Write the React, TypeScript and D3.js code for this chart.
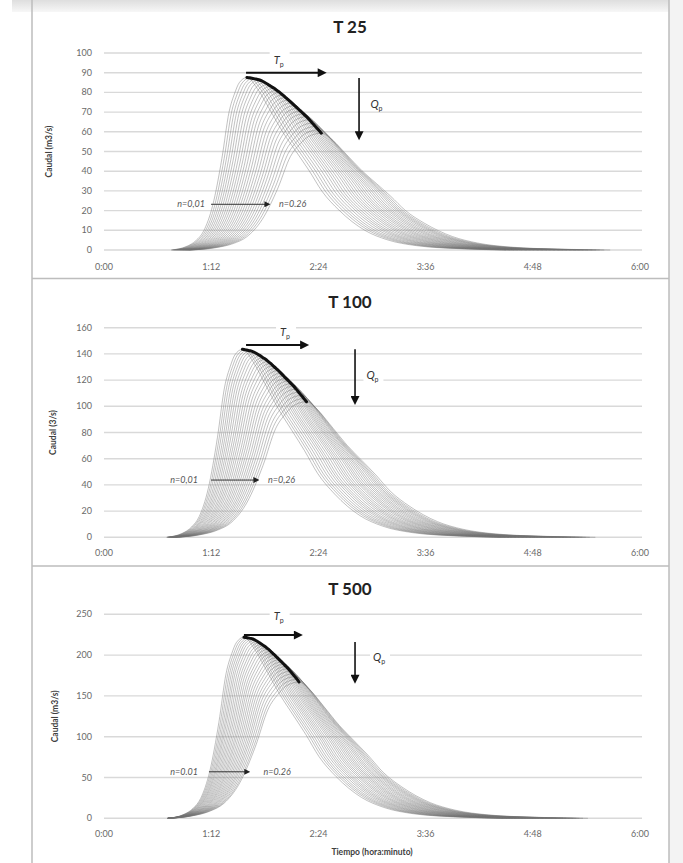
import React from "react";
import * as d3 from "d3";

// Manning n of each simulated hydrograph
const N_VALUES = [0.01, 0.02, 0.03, 0.04, 0.05, 0.06, 0.07, 0.08, 0.09, 0.1, 0.11, 0.12, 0.13,
  0.14, 0.15, 0.16, 0.17, 0.18, 0.19, 0.2, 0.21, 0.22, 0.23, 0.24, 0.25, 0.26];

// duration (min) of the rising limb and of the recession of each hydrograph
const RISE_MIN = [51, 52.5, 54, 55.5, 57, 58.5, 60, 61.5, 63, 64.5, 66, 67.5, 69, 70.5, 72, 73.5,
  75, 76.5, 78, 79.5, 81, 82.5, 84, 85.5, 87, 88.5];
const FALL_MIN = [174, 175, 175.5, 176, 177, 178, 178.5, 179, 180, 181, 181.5, 182, 183, 184,
  184.5, 185, 186, 187, 187.5, 188, 189, 190, 190.5, 191, 192, 194];

// dimensionless hydrograph (fraction of duration, fraction of peak)
const RISE_FRAC = [0, 0.2, 0.33, 0.43, 0.55, 0.67, 0.765, 0.84, 0.9, 1];
const RISE_Q = [0, 0.02, 0.055, 0.11, 0.26, 0.53, 0.8, 0.91, 0.97, 1];
const FALL_FRAC = [0, 0.04, 0.086, 0.14, 0.19, 0.24, 0.29, 0.356, 0.454, 0.54, 0.655, 0.83, 1];
const FALL_Q = [1, 0.936, 0.82, 0.68, 0.57, 0.46, 0.34, 0.23, 0.115, 0.06, 0.025, 0.007, 0];

// peaks (thick line) per return period: time in minutes, flow
const T25_PEAK_TIME = [96, 98, 100, 102, 104, 106, 108, 110, 112, 114, 116, 118, 120, 122, 124,
  126, 128, 130, 132, 134, 136, 138, 140, 142, 144, 146];
const T25_PEAK_FLOW = [87.6, 87.4, 87.1, 86.8, 86.4, 85.8, 85.0, 84.1, 83.1, 82.2, 81.1, 80.0,
  78.7, 77.4, 76.1, 74.7, 73.3, 71.9, 70.5, 69.1, 67.7, 66.1, 64.4, 62.7, 61.0, 59.3];
const T100_PEAK_TIME = [93, 94.7, 96.4, 98.2, 99.9, 101.6, 103.3, 105, 106.8, 108.5, 110.2, 111.9,
  113.6, 115.4, 117.1, 118.8, 120.5, 122.2, 124, 125.7, 127.4, 129.1, 130.8, 132.6, 134.3, 136];
const T100_PEAK_FLOW = [143.5, 143.2, 142.8, 142.4, 141.8, 140.9, 139.8, 138.5, 137.1, 135.9,
  134.3, 132.7, 130.9, 129.1, 127.3, 125.3, 123.3, 121.3, 119.3, 117.3, 115.4, 113.1, 110.7,
  108.3, 105.9, 103.5];
const T500_PEAK_TIME = [94, 95.5, 97, 98.5, 100, 101.4, 102.9, 104.4, 105.9, 107.4, 108.9, 110.4,
  111.9, 113.3, 114.8, 116.3, 117.8, 119.3, 120.8, 122.3, 123.8, 125.2, 126.7, 128.2, 129.7, 131];
const T500_PEAK_FLOW = [222, 221.6, 221, 220.5, 219.7, 218.5, 216.9, 215.2, 213.2, 211.5, 209.4,
  207.2, 204.7, 202.2, 199.7, 196.9, 194.2, 191.5, 188.8, 186, 183.3, 180.2, 176.9, 173.6, 170.3, 167];

const X_TICKS = [0, 72, 144, 216, 288, 360];
const T25_Y_TICKS = [0, 10, 20, 30, 40, 50, 60, 70, 80, 90, 100];
const T100_Y_TICKS = [0, 20, 40, 60, 80, 100, 120, 140, 160];
const T500_Y_TICKS = [0, 50, 100, 150, 200, 250];

// annotation anchors in data units [time, flow]
const T25_NOTES = { tp: [95.4, 149.5, 90], tpLabel: [117.3, 96], qp: [171.3, 87.3, 55.8], qpLabel: [183, 73.6], n: [67.8, 71.9, 111.5, 117.5, 23.2] };
const T100_NOTES = { tp: [95.4, 137.7, 146.8], tpLabel: [121.6, 155.7], qp: [168.6, 143.5, 101], qpLabel: [180.3, 123], n: [63.1, 71.9, 104.1, 110.1, 43.7] };
const T500_NOTES = { tp: [94, 133.5, 224.6], tpLabel: [117.3, 247], qp: [168.6, 216, 165], qpLabel: [184.7, 197], n: [63.1, 70.5, 98, 107.1, 57] };

const FONT = "Lato, 'Open Sans', sans-serif";

const PANELS = [
  { title: "T 25", yTitle: "Caudal (m3/s)", yMax: 100, yTicks: T25_Y_TICKS, peakTime: T25_PEAK_TIME, peakFlow: T25_PEAK_FLOW, notes: T25_NOTES,
    nLeft: "n=0,01", nRight: "n=0.26", titleY: 33, yTop: 53, yZero: 250, xLabelY: 270, yTitleX: 52 },
  { title: "T 100", yTitle: "Caudal (3/s)", yMax: 160, yTicks: T100_Y_TICKS, peakTime: T100_PEAK_TIME, peakFlow: T100_PEAK_FLOW, notes: T100_NOTES,
    nLeft: "n=0,01", nRight: "n=0,26", titleY: 308, yTop: 327.7, yZero: 537.3, xLabelY: 555.5, yTitleX: 56 },
  { title: "T 500", yTitle: "Caudal (m3/s)", yMax: 250, yTicks: T500_Y_TICKS, peakTime: T500_PEAK_TIME, peakFlow: T500_PEAK_FLOW, notes: T500_NOTES,
    nLeft: "n=0.01", nRight: "n=0.26", titleY: 595, yTop: 614.3, yZero: 818.3, xLabelY: 837, yTitleX: 58 },
];

const fmtTime = (m: number) => `${Math.floor(m / 60)}:${String(m % 60).padStart(2, "0")}`;

function hydrograph(tp: number, qp: number, rise: number, fall: number) {
  const pts: [number, number][] = [];
  RISE_FRAC.forEach((f, j) => pts.push([tp - rise * (1 - f), qp * RISE_Q[j]]));
  FALL_FRAC.forEach((f, j) => { if (j > 0) pts.push([tp + fall * f, qp * FALL_Q[j]]); });
  return pts;
}

function Panel({ p }: { p: any }) {
  const x = d3.scaleLinear().domain([0, 360]).range([104, 640]);
  const y = d3.scaleLinear().domain([0, p.yMax]).range([p.yZero, p.yTop]);
  const line = d3.line<[number, number]>().x(d => x(d[0])).y(d => y(d[1])).curve(d3.curveMonotoneX);
  const peaks: [number, number][] = p.peakTime.map((t: number, i: number) => [t, p.peakFlow[i]]);
  const nt = p.notes;
  const midY = (p.yTop + p.yZero) / 2;

  return (
    <g>
      <text x={350} y={p.titleY} textAnchor="middle" fontFamily={FONT} fontWeight="bold" fontSize={17} fill="#222">{p.title}</text>
      {p.yTicks.map((v: number) => (
        <g key={v}>
          <line x1={104} x2={642} y1={y(v)} y2={y(v)} stroke="#d9d9d9" strokeWidth={1.4} />
          <text x={92} y={y(v) + 3} textAnchor="end" fontFamily={FONT} fontSize={9} fill="#6a6a6a">{v}</text>
        </g>
      ))}
      {X_TICKS.map(t => (
        <text key={t} x={x(t)} y={p.xLabelY} textAnchor="middle" fontFamily={FONT} fontSize={9} fill="#6a6a6a">{fmtTime(t)}</text>
      ))}
      <text transform={`translate(${p.yTitleX},${midY}) rotate(-90)`} textAnchor="middle" fontFamily={FONT} fontWeight="bold" fontSize={8.5} fill="#404040">{p.yTitle}</text>

      <g filter="url(#soft)">
        {N_VALUES.map((n, i) => (
          <path key={n} d={line(hydrograph(p.peakTime[i], p.peakFlow[i], RISE_MIN[i], FALL_MIN[i])) || ""}
            fill="none" stroke="#707070" strokeWidth={0.8} strokeOpacity={0.55} />
        ))}
      </g>
      <path d={line(peaks) || ""} fill="none" stroke="#111" strokeWidth={3} strokeLinecap="round" />

      {/* Tp arrow */}
      <line x1={x(nt.tp[0])} x2={x(nt.tp[1]) - 8} y1={y(nt.tp[2])} y2={y(nt.tp[2])} stroke="#111" strokeWidth={2} markerEnd="url(#bigHead)" />
      <rect x={x(nt.tpLabel[0]) - 9} y={y(nt.tpLabel[1]) - 9} width={20} height={15} fill="#fff" />
      <text x={x(nt.tpLabel[0])} y={y(nt.tpLabel[1]) + 3} textAnchor="middle" fontFamily={FONT} fontSize={11} fill="#333">
        <tspan fontStyle="italic">T</tspan><tspan fontSize={7} dy={3}>p</tspan>
      </text>
      {/* Qp arrow */}
      <line x1={x(nt.qp[0])} x2={x(nt.qp[0])} y1={y(nt.qp[1])} y2={y(nt.qp[2]) - 8} stroke="#111" strokeWidth={1.6} markerEnd="url(#bigHead)" />
      <rect x={x(nt.qpLabel[0]) - 9} y={y(nt.qpLabel[1]) - 9} width={20} height={15} fill="#fff" />
      <text x={x(nt.qpLabel[0])} y={y(nt.qpLabel[1]) + 3} textAnchor="middle" fontFamily={FONT} fontSize={11} fill="#333">
        <tspan fontStyle="italic">Q</tspan><tspan fontSize={7} dy={3}>p</tspan>
      </text>
      {/* n range arrow */}
      <text x={x(nt.n[0])} y={y(nt.n[4]) + 3} textAnchor="end" fontFamily={FONT} fontStyle="italic" fontSize={9} fill="#555">{p.nLeft}</text>
      <line x1={x(nt.n[1])} x2={x(nt.n[2]) - 5} y1={y(nt.n[4])} y2={y(nt.n[4])} stroke="#333" strokeWidth={1} markerEnd="url(#smallHead)" />
      <text x={x(nt.n[3])} y={y(nt.n[4]) + 3} textAnchor="start" fontFamily={FONT} fontStyle="italic" fontSize={9} fill="#555">{p.nRight}</text>
    </g>
  );
}

export default function App() {
  return (
    <svg width={683} height={863} style={{ position: "absolute", left: 0, top: 0, background: "#fff" }}>
      <defs>
        <linearGradient id="topBand" x1="0" x2="0" y1="0" y2="1">
          <stop offset="0" stopColor="#dedede" />
          <stop offset="1" stopColor="#f7f7f7" />
        </linearGradient>
        <filter id="soft" x="-5%" y="-5%" width="110%" height="110%">
          <feGaussianBlur stdDeviation={0.55} />
        </filter>
        <marker id="bigHead" viewBox="0 0 10 10" refX={1} refY={5} markerWidth={10} markerHeight={9} markerUnits="userSpaceOnUse" orient="auto">
          <path d="M0,0 L10,5 L0,10 Z" fill="#111" />
        </marker>
        <marker id="smallHead" viewBox="0 0 10 10" refX={1} refY={5} markerWidth={6} markerHeight={6} markerUnits="userSpaceOnUse" orient="auto">
          <path d="M0,0 L10,5 L0,10 Z" fill="#222" />
        </marker>
      </defs>
      <rect x={12} y={0} width={671} height={12} fill="url(#topBand)" />
      <rect x={669} y={0} width={14} height={863} fill="#f3f3f3" />
      {/* panel frames */}
      <line x1={32} x2={32} y1={0} y2={863} stroke="#bdbdbd" strokeWidth={1.5} />
      <line x1={669} x2={669} y1={0} y2={863} stroke="#bdbdbd" strokeWidth={1.5} />
      <line x1={32} x2={669} y1={278.5} y2={278.5} stroke="#bdbdbd" strokeWidth={1.5} />
      <line x1={32} x2={669} y1={566} y2={566} stroke="#bdbdbd" strokeWidth={1.5} />
      {PANELS.map(p => <Panel key={p.title} p={p} />)}
      <text x={372} y={855} textAnchor="middle" fontFamily={FONT} fontWeight="bold" fontSize={8.5} fill="#404040">Tiempo (hora:minuto)</text>
    </svg>
  );
}
